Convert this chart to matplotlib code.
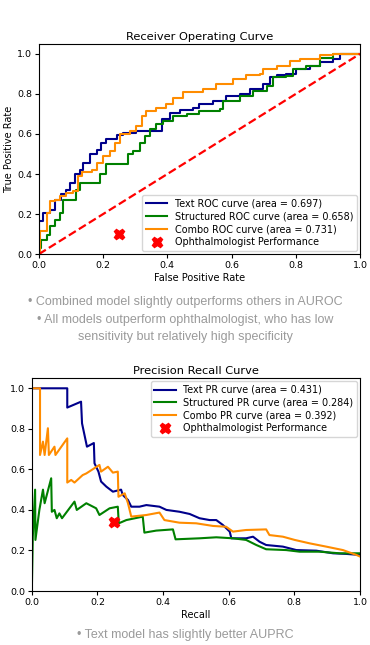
import matplotlib
matplotlib.use("Agg")
import matplotlib.pyplot as plt

# ROC curves (false positive rate, true positive rate)
text_fpr = [0, 0, 0.013, 0.034, 0.05, 0.07, 0.086, 0.096, 0.112, 0.128, 0.138, 0.159, 0.18, 0.195,
            0.21, 0.242, 0.262, 0.304, 0.366, 0.382, 0.408, 0.439, 0.48, 0.50, 0.543, 0.584, 0.625,
            0.657, 0.698, 0.719, 0.74, 0.77, 0.80, 0.843, 0.874, 0.916, 0.937, 1.0]
text_tpr = [0, 0.164, 0.205, 0.22, 0.27, 0.30, 0.32, 0.356, 0.40, 0.42, 0.456, 0.50, 0.52, 0.557,
            0.574, 0.594, 0.607, 0.614, 0.614, 0.674, 0.707, 0.72, 0.732, 0.749, 0.766, 0.788, 0.80,
            0.824, 0.85, 0.883, 0.895, 0.90, 0.925, 0.941, 0.958, 0.975, 1.0, 1.0]

struct_fpr = [0, 0.003, 0.008, 0.024, 0.034, 0.05, 0.065, 0.076, 0.10, 0.117, 0.128, 0.174, 0.19,
              0.21, 0.262, 0.278, 0.294, 0.314, 0.33, 0.345, 0.366, 0.387, 0.418, 0.46, 0.50, 0.563,
              0.574, 0.625, 0.667, 0.709, 0.73, 0.77, 0.79, 0.833, 0.874, 0.916, 1.0]
struct_tpr = [0, 0.03, 0.07, 0.097, 0.14, 0.17, 0.206, 0.27, 0.27, 0.32, 0.356, 0.356, 0.40,
              0.448, 0.448, 0.50, 0.515, 0.557, 0.59, 0.624, 0.649, 0.666, 0.69, 0.70, 0.716, 0.724,
              0.766, 0.79, 0.816, 0.84, 0.883, 0.891, 0.925, 0.94, 0.978, 1.0, 1.0]

combo_fpr = [0, 0.003, 0.019, 0.024, 0.034, 0.05, 0.065, 0.086, 0.107, 0.122, 0.133, 0.164, 0.18,
             0.20, 0.221, 0.237, 0.252, 0.283, 0.304, 0.32, 0.335, 0.366, 0.397, 0.418, 0.449,
             0.511, 0.553, 0.605, 0.646, 0.688, 0.698, 0.74, 0.781, 0.812, 0.874, 0.916, 1.0]
combo_tpr = [0, 0.114, 0.114, 0.206, 0.264, 0.27, 0.29, 0.306, 0.314, 0.39, 0.41, 0.42, 0.456,
             0.49, 0.515, 0.557, 0.599, 0.615, 0.64, 0.69, 0.716, 0.732, 0.749, 0.778, 0.808,
             0.824, 0.85, 0.875, 0.895, 0.90, 0.925, 0.941, 0.962, 0.975, 0.992, 1.0, 1.0]

# PR curves (recall, precision)
text_rec = [0, 0.108, 0.108, 0.150, 0.153, 0.168, 0.189, 0.191, 0.203, 0.211, 0.227, 0.247, 0.272,
            0.277, 0.293, 0.303, 0.328, 0.349, 0.389, 0.41, 0.45, 0.481, 0.511, 0.542, 0.562,
            0.582, 0.603, 0.608, 0.653, 0.674, 0.694, 0.714, 0.765, 0.806, 0.867, 0.918, 0.958, 1.0]
text_prec = [1.0, 1.0, 0.905, 0.934, 0.827, 0.712, 0.73, 0.63, 0.589, 0.54, 0.515, 0.49, 0.50,
             0.474, 0.449, 0.416, 0.416, 0.424, 0.416, 0.40, 0.391, 0.38, 0.359, 0.35, 0.35,
             0.326, 0.293, 0.26, 0.26, 0.268, 0.243, 0.227, 0.219, 0.202, 0.199, 0.186, 0.183, 0.178]

struct_rec = [0, 0.003, 0.01, 0.011, 0.023, 0.034, 0.039, 0.059, 0.061, 0.069, 0.076, 0.084,
              0.092, 0.13, 0.137, 0.166, 0.196, 0.206, 0.237, 0.262, 0.265, 0.288, 0.338, 0.343,
              0.379, 0.43, 0.438, 0.511, 0.562, 0.613, 0.653, 0.684, 0.714, 0.775, 0.816, 0.877,
              0.938, 1.0]
struct_prec = [0, 0.268, 0.50, 0.252, 0.40, 0.50, 0.433, 0.556, 0.391, 0.40, 0.359, 0.383,
               0.359, 0.441, 0.40, 0.433, 0.408, 0.375, 0.408, 0.416, 0.334, 0.35, 0.367, 0.288,
               0.298, 0.304, 0.255, 0.26, 0.265, 0.26, 0.252, 0.227, 0.206, 0.202, 0.194, 0.194,
               0.186, 0.186]

combo_rec = [0, 0.025, 0.025, 0.034, 0.039, 0.049, 0.052, 0.069, 0.072, 0.108, 0.108, 0.12, 0.13,
             0.155, 0.166, 0.206, 0.211, 0.232, 0.247, 0.262, 0.264, 0.283, 0.293, 0.303, 0.349,
             0.389, 0.404, 0.45, 0.501, 0.552, 0.592, 0.613, 0.653, 0.714, 0.724, 0.765, 0.801,
             0.847, 0.897, 0.948, 0.989, 1.0]
combo_prec = [1.0, 1.0, 0.671, 0.737, 0.671, 0.803, 0.671, 0.712, 0.671, 0.753, 0.535, 0.548,
              0.535, 0.572, 0.58, 0.622, 0.589, 0.613, 0.584, 0.589, 0.465, 0.482, 0.433, 0.367,
              0.375, 0.387, 0.35, 0.337, 0.334, 0.321, 0.317, 0.293, 0.301, 0.304, 0.276, 0.268,
              0.252, 0.235, 0.219, 0.202, 0.178, 0.17]

ophth_fpr, ophth_tpr = 0.25, 0.10
ophth_rec, ophth_prec = 0.25, 0.34

roc_labels = ['Text ROC curve (area = 0.697)', 'Structured ROC curve (area = 0.658)',
              'Combo ROC curve (area = 0.731)']
pr_labels = ['Text PR curve (area = 0.431)', 'Structured PR curve (area = 0.284)',
             'Combo PR curve (area = 0.392)']
colors = ['darkblue', 'green', 'darkorange']

plt.rcParams['font.size'] = 7
fig = plt.figure(figsize=(3.7, 6.45), dpi=100)

# ---- ROC ----
ax1 = fig.add_axes([0.105, 0.606, 0.868, 0.326])
ax1.plot(text_fpr, text_tpr, color=colors[0], lw=1.5, drawstyle='steps-post', label=roc_labels[0])
ax1.plot(struct_fpr, struct_tpr, color=colors[1], lw=1.5, drawstyle='steps-post', label=roc_labels[1])
ax1.plot(combo_fpr, combo_tpr, color=colors[2], lw=1.5, drawstyle='steps-post', label=roc_labels[2])
ax1.plot([0, 1], [0, 1], color='red', lw=1.6, ls='--')
ax1.plot(ophth_fpr, ophth_tpr, 'X', color='red', ms=7.5, ls='none', label='Ophthalmologist Performance')
ax1.set_xlim(0, 1)
ax1.set_ylim(0, 1.05)
ax1.set_title('Receiver Operating Curve', fontsize=8.2, pad=3)
ax1.set_xlabel('False Positive Rate', fontsize=7, labelpad=2)
ax1.set_ylabel('True Positive Rate', fontsize=7, labelpad=2)
ax1.tick_params(labelsize=6.8, length=3, pad=2)
ax1.legend(loc='lower right', fontsize=6.9, frameon=True, borderaxespad=0.3, handlelength=2.2,
           labelspacing=0.3)

# ---- bullets ----
gray = '#9a9a9a'
bfont = ['Liberation Sans', 'DejaVu Sans']
fig.text(0.5, 0.532, '• Combined model slightly outperforms others in AUROC', ha='center',
         va='center', color=gray, fontsize=9, family=bfont)
fig.text(0.5, 0.504, '• All models outperform ophthalmologist, who has low', ha='center',
         va='center', color=gray, fontsize=9, family=bfont)
fig.text(0.5, 0.477, 'sensitivity but relatively high specificity', ha='center',
         va='center', color=gray, fontsize=9, family=bfont)

# ---- PR ----
ax2 = fig.add_axes([0.086, 0.0837, 0.887, 0.330])
ax2.plot(text_rec, text_prec, color=colors[0], lw=1.5, label=pr_labels[0])
ax2.plot(struct_rec, struct_prec, color=colors[1], lw=1.5, label=pr_labels[1])
ax2.plot(combo_rec, combo_prec, color=colors[2], lw=1.5, label=pr_labels[2])
ax2.plot(ophth_rec, ophth_prec, 'X', color='red', ms=7.5, ls='none', label='Ophthalmologist Performance')
ax2.set_xlim(0, 1)
ax2.set_ylim(0, 1.05)
ax2.set_title('Precision Recall Curve', fontsize=8.2, pad=3)
ax2.set_xlabel('Recall', fontsize=7, labelpad=2)
ax2.set_ylabel('Precision', fontsize=7)
ax2.yaxis.set_label_coords(-0.095, 0.5)
ax2.tick_params(labelsize=6.8, length=3, pad=2)
ax2.legend(loc='upper right', fontsize=6.9, frameon=True, borderaxespad=0.3, handlelength=2.2,
           labelspacing=0.3)

fig.text(0.5, 0.0155, '• Text model has slightly better AUPRC', ha='center', va='center',
         color=gray, fontsize=9, family=bfont)

fig.savefig('out.png', dpi=100)
